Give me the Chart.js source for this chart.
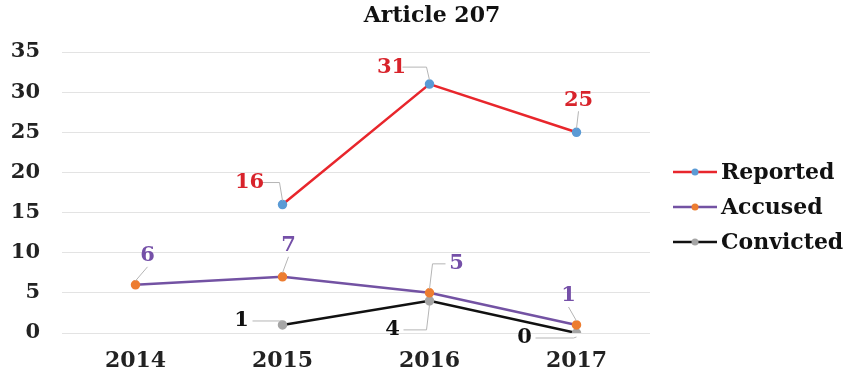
<!DOCTYPE html>
<html>
<head>
<meta charset="utf-8">
<style>
  html, body { margin: 0; padding: 0; background: #fff; }
  #wrap { width: 854px; height: 375px; }
</style>
<script src="https://cdn.jsdelivr.net/npm/chart.js@4.4.1/dist/chart.umd.min.js"></script>
</head>
<body>
<div id="wrap"><canvas id="chart"></canvas></div>
<script>
const years     = ['2014', '2015', '2016', '2017'];
const reported  = [null, 16, 31, 25];
const accused   = [6, 7, 5, 1];
const convicted = [null, 1, 4, 0];
const yTicks    = [0, 5, 10, 15, 20, 25, 30, 35];

const FONT = "'DejaVu Serif', 'Liberation Serif', serif";

// where each value label sits relative to its point (px), per year
const reportedLabelPos  = [null, [-33, -22], [-38, -17], [2, -32]];
const accusedLabelPos   = [[12, -29], [6, -31], [27, -29], [-8, -29]];
const convictedLabelPos = [null, [-41, -4], [-37, 29], [-52, 5]];

// title centred over the whole canvas, not only the plot
const titleText = {
    id: 'titleText',
    afterDraw(chart) {
        const ctx = chart.ctx;
        ctx.save();
        ctx.font = 'bold 22px ' + FONT;
        ctx.fillStyle = '#111';
        ctx.textAlign = 'center';
        ctx.textBaseline = 'middle';
        ctx.fillText('Article 207', chart.width / 2 + 5, 16);
        ctx.restore();
    }
};

// value labels with thin grey leader lines back to the marker
const valueLabels = {
    id: 'valueLabels',
    afterDatasetsDraw(chart) {
        const ctx = chart.ctx;
        ctx.save();
        ctx.font = 'bold 21px ' + FONT;
        ctx.textAlign = 'center';
        ctx.textBaseline = 'middle';
        chart.data.datasets.forEach((ds, i) => {
            const meta = chart.getDatasetMeta(i);
            meta.data.forEach((pt, j) => {
                const v = ds.data[j];
                const off = ds.labelPos[j];
                if (v === null || !off) return;
                const lx = pt.x + off[0], ly = pt.y + off[1];
                // leader line
                ctx.strokeStyle = '#b5b5b5';
                ctx.lineWidth = 1;
                ctx.beginPath();
                const side = Math.abs(off[0]) > 15;
                const sx = lx + (off[0] < -15 ? 11 : off[0] > 15 ? -11 : 0);
                const sy = ly + (side ? 0 : (off[1] < 0 ? 11 : -11));
                ctx.moveTo(sx, sy);
                if (side) ctx.lineTo(pt.x + (off[0] < 0 ? -3 : 3), sy);
                ctx.lineTo(pt.x, pt.y + (off[1] < 0 ? -4 : 4));
                ctx.stroke();
                ctx.fillStyle = ds.labelColor;
                ctx.fillText(String(v), lx, ly);
            });
        });
        ctx.restore();
    }
};

// legend on the right: line sample with marker, then bold name
const sideLegend = {
    id: 'sideLegend',
    afterDraw(chart) {
        const ctx = chart.ctx;
        const x0 = chart.chartArea.right + 23;
        const top = 172;
        ctx.save();
        ctx.font = 'bold 22px ' + FONT;
        ctx.textBaseline = 'middle';
        chart.data.datasets.forEach((ds, i) => {
            const y = top + i * 35;
            ctx.strokeStyle = ds.borderColor;
            ctx.lineWidth = 2.5;
            ctx.beginPath();
            ctx.moveTo(x0, y);
            ctx.lineTo(x0 + 44, y);
            ctx.stroke();
            ctx.fillStyle = ds.pointBackgroundColor;
            ctx.beginPath();
            ctx.arc(x0 + 22, y, 3.5, 0, Math.PI * 2);
            ctx.fill();
            ctx.fillStyle = '#111';
            ctx.fillText(ds.label, x0 + 48, y + 1);
        });
        ctx.restore();
    }
};

new Chart(document.getElementById('chart'), {
    type: 'line',
    data: {
        labels: years,
        datasets: [
            { label: 'Reported', data: reported, labelPos: reportedLabelPos, labelColor: '#d8232b',
              borderColor: '#e8262c', pointBackgroundColor: '#5b9bd5', pointBorderColor: '#5b9bd5' },
            { label: 'Accused', data: accused, labelPos: accusedLabelPos, labelColor: '#7550a8',
              borderColor: '#7352a3', pointBackgroundColor: '#ed7d31', pointBorderColor: '#ed7d31' },
            { label: 'Convicted', data: convicted, labelPos: convictedLabelPos, labelColor: '#111',
              borderColor: '#111', pointBackgroundColor: '#a5a5a5', pointBorderColor: '#a5a5a5' },
        ].map(d => Object.assign({ borderWidth: 2.5, pointRadius: 3.5, pointHoverRadius: 3.5, tension: 0, spanGaps: false }, d))
    },
    options: {
        responsive: true,
        maintainAspectRatio: false,
        animation: false,
        events: [],
        layout: { autoPadding: false, padding: { left: 11, right: 204, top: 52, bottom: 0 } },
        plugins: {
            legend: { display: false },
            tooltip: { enabled: false },
            title: { display: false }
        },
        scales: {
            y: {
                min: 0, max: 35,
                afterBuildTicks: axis => { axis.ticks = yTicks.map(v => ({ value: v })); },
                afterFit: axis => { axis.width = 51; },
                ticks: { color: '#222', padding: 22, font: { family: FONT, size: 21, weight: 'bold' } },
                grid: { color: '#e3e3e3', drawTicks: false },
                border: { display: false }
            },
            x: {
                offset: true,
                afterFit: axis => { axis.height = 42; },
                ticks: { color: '#222', padding: 15, font: { family: FONT, size: 22, weight: 'bold' } },
                grid: { display: false, drawTicks: false },
                border: { display: false }
            }
        }
    },
    plugins: [valueLabels, sideLegend, titleText]
});
</script>
</body>
</html>
